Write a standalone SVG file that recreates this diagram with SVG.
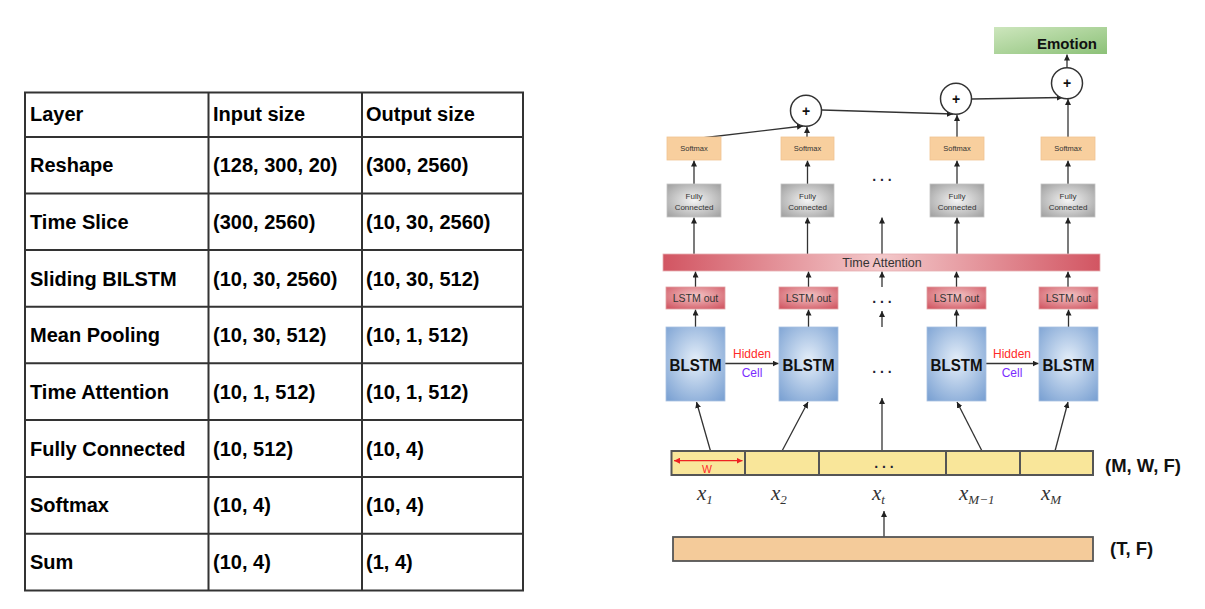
<svg xmlns="http://www.w3.org/2000/svg" width="1205" height="609" viewBox="0 0 1205 609">
<defs>
<marker id="ah" viewBox="0 0 10 10" refX="10" refY="5" markerWidth="6" markerHeight="6" markerUnits="userSpaceOnUse" orient="auto"><path d="M0,0 L10,5 L0,10 z" fill="#222"/></marker>
<marker id="ahr" viewBox="0 0 10 10" refX="10" refY="5" markerWidth="6" markerHeight="6" markerUnits="userSpaceOnUse" orient="auto-start-reverse"><path d="M0,0 L10,5 L0,10 z" fill="#ee2222"/></marker>
<radialGradient id="gFC" cx="50%" cy="50%" r="65%"><stop offset="0" stop-color="#f4f4f4"/><stop offset="1" stop-color="#a4a4a4"/></radialGradient>
<radialGradient id="gBL" cx="50%" cy="45%" r="70%"><stop offset="0" stop-color="#e4eef9"/><stop offset="1" stop-color="#7ca2d3"/></radialGradient>
<radialGradient id="gLO" cx="50%" cy="40%" r="70%"><stop offset="0" stop-color="#f3c6c6"/><stop offset="1" stop-color="#d25a66"/></radialGradient>
<linearGradient id="gTA" x1="0" y1="0" x2="1" y2="0"><stop offset="0" stop-color="#d25562"/><stop offset="0.5" stop-color="#f3c8ca"/><stop offset="1" stop-color="#d25562"/></linearGradient>
<linearGradient id="gEM" x1="0" y1="0" x2="1" y2="1"><stop offset="0" stop-color="#cde6bd"/><stop offset="1" stop-color="#8cc178"/></linearGradient>
<style>
.tb{font-family:"Liberation Sans",Arial,sans-serif;font-weight:bold;font-size:20px;fill:#000}
.grid{stroke:#333;stroke-width:2;fill:none}
.c{stroke:#333;stroke-width:1.3;fill:none;marker-end:url(#ah)}
.sm{fill:#f8cf9e;stroke:#efc391;stroke-width:0.8}
.fc{fill:url(#gFC);stroke:#c4c4c4;stroke-width:0.8}
.lo{fill:url(#gLO);stroke:#e0a0a4;stroke-width:0.8}
.bl{fill:url(#gBL);stroke:#a9c0e0;stroke-width:0.8}
.t{font-family:"Liberation Sans",Arial,sans-serif;text-anchor:middle;fill:#333}
.k{fill:#111;font-weight:bold}
.red{fill:#ff2a2a}
.pur{fill:#7a2cff}
.dots{font-family:"Liberation Sans",Arial,sans-serif;font-size:14px;font-weight:bold;text-anchor:middle;fill:#223}
.plus{fill:#fff;stroke:#333;stroke-width:1.5}
.lbl{font-family:"Liberation Sans",Arial,sans-serif;font-weight:bold;font-size:18.5px;fill:#111}
.mx{font-family:"Liberation Serif","Times New Roman",serif;font-style:italic;font-size:21px;fill:#333}
.sub{font-family:"Liberation Serif","Times New Roman",serif;font-style:italic;font-size:13px}
</style>
</defs>
<rect width="1205" height="609" fill="#fff"/>

<g id="table">
<rect class="grid" x="25" y="92.5" width="498" height="498"/>
<path class="grid" d="M208.5,92.5V590.5M362,92.5V590.5M25,137H523M25,193.5H523M25,250H523M25,306.7H523M25,363.3H523M25,420H523M25,477H523M25,533.7H523"/>
<text class="tb" x="30" y="121">Layer</text><text class="tb" x="213" y="121">Input size</text><text class="tb" x="366" y="121">Output size</text>
<text class="tb" x="30" y="172">Reshape</text><text class="tb" x="213" y="172">(128, 300, 20)</text><text class="tb" x="366" y="172">(300, 2560)</text>
<text class="tb" x="30" y="229">Time Slice</text><text class="tb" x="213" y="229">(300, 2560)</text><text class="tb" x="366" y="229">(10, 30, 2560)</text>
<text class="tb" x="30" y="285.5">Sliding BILSTM</text><text class="tb" x="213" y="285.5">(10, 30, 2560)</text><text class="tb" x="366" y="285.5">(10, 30, 512)</text>
<text class="tb" x="30" y="342">Mean Pooling</text><text class="tb" x="213" y="342">(10, 30, 512)</text><text class="tb" x="366" y="342">(10, 1, 512)</text>
<text class="tb" x="30" y="399">Time Attention</text><text class="tb" x="213" y="399">(10, 1, 512)</text><text class="tb" x="366" y="399">(10, 1, 512)</text>
<text class="tb" x="30" y="455.5">Fully Connected</text><text class="tb" x="213" y="455.5">(10, 512)</text><text class="tb" x="366" y="455.5">(10, 4)</text>
<text class="tb" x="30" y="512.3">Softmax</text><text class="tb" x="213" y="512.3">(10, 4)</text><text class="tb" x="366" y="512.3">(10, 4)</text>
<text class="tb" x="30" y="569">Sum</text><text class="tb" x="213" y="569">(10, 4)</text><text class="tb" x="366" y="569">(1, 4)</text>
</g>

<g id="connectors">
<line class="c" x1="693" y1="139" x2="803" y2="126"/>
<line class="c" x1="807" y1="138" x2="807" y2="127"/>
<line class="c" x1="957" y1="138" x2="957" y2="115"/>
<line class="c" x1="1068" y1="138" x2="1068" y2="99"/>
<line class="c" x1="822" y1="110" x2="953" y2="114"/>
<line class="c" x1="972" y1="99" x2="1063" y2="97.5"/>
<line class="c" x1="1067" y1="67.5" x2="1067" y2="54.5"/>
<line class="c" x1="694" y1="184" x2="694" y2="160.5"/>
<line class="c" x1="807.5" y1="184" x2="807.5" y2="160.5"/>
<line class="c" x1="957" y1="184" x2="957" y2="160.5"/>
<line class="c" x1="1068" y1="184" x2="1068" y2="160.5"/>
<line class="c" x1="694" y1="254" x2="694" y2="217.5"/>
<line class="c" x1="807.5" y1="254" x2="807.5" y2="217.5"/>
<line class="c" x1="882" y1="254" x2="882" y2="217.5"/>
<line class="c" x1="957" y1="254" x2="957" y2="217.5"/>
<line class="c" x1="1068" y1="254" x2="1068" y2="217.5"/>
<line class="c" x1="695.5" y1="287" x2="695.5" y2="271.5"/>
<line class="c" x1="808.5" y1="287" x2="808.5" y2="271.5"/>
<line class="c" x1="882" y1="287" x2="882" y2="271.5"/>
<line class="c" x1="956.5" y1="287" x2="956.5" y2="271.5"/>
<line class="c" x1="1068" y1="287" x2="1068" y2="271.5"/>
<line class="c" x1="695.5" y1="327" x2="695.5" y2="309.5"/>
<line class="c" x1="808.5" y1="327" x2="808.5" y2="309.5"/>
<line class="c" x1="882" y1="327" x2="882" y2="311"/>
<line class="c" x1="956.5" y1="327" x2="956.5" y2="309.5"/>
<line class="c" x1="1068.5" y1="327" x2="1068.5" y2="309.5"/>
<line class="c" x1="725" y1="363.5" x2="778.5" y2="363.5"/>
<line class="c" x1="986" y1="363.5" x2="1038.5" y2="363.5"/>
<line class="c" x1="710.5" y1="451" x2="696.5" y2="402"/>
<line class="c" x1="782" y1="451" x2="808" y2="402"/>
<line class="c" x1="882" y1="451" x2="882" y2="398"/>
<line class="c" x1="982" y1="451" x2="957" y2="402"/>
<line class="c" x1="1055" y1="451" x2="1068" y2="402"/>
<line class="c" x1="884" y1="537" x2="884" y2="511"/>
</g>

<g id="emotion"><rect x="994" y="27" width="113" height="27" fill="url(#gEM)"/><text class="t k" x="1067" y="48.5" font-size="15">Emotion</text></g>
<g id="sum1"><circle class="plus" cx="806" cy="110.7" r="15.5"/><text class="t k" x="806" y="115.5" font-size="14">+</text></g>
<g id="sum2"><circle class="plus" cx="956" cy="98.7" r="15.5"/><text class="t k" x="956" y="103.5" font-size="14">+</text></g>
<g id="sum3"><circle class="plus" cx="1067" cy="83.3" r="15.5"/><text class="t k" x="1067" y="88.1" font-size="14">+</text></g>

<g id="softmax1"><rect class="sm" x="667" y="137" width="54" height="23"/><text class="t" x="694" y="151" font-size="7.5">Softmax</text></g>
<g id="softmax2"><rect class="sm" x="781" y="137" width="53" height="23"/><text class="t" x="807.5" y="151" font-size="7.5">Softmax</text></g>
<g id="softmax3"><rect class="sm" x="930" y="137" width="54" height="23"/><text class="t" x="957" y="151" font-size="7.5">Softmax</text></g>
<g id="softmax4"><rect class="sm" x="1041" y="137" width="54" height="23"/><text class="t" x="1068" y="151" font-size="7.5">Softmax</text></g>

<g id="fc1"><rect class="fc" x="667" y="184" width="54" height="33"/><text class="t" x="694" y="198.5" font-size="8">Fully</text><text class="t" x="694" y="209.5" font-size="8">Connected</text></g>
<g id="fc2"><rect class="fc" x="781" y="184" width="53" height="33"/><text class="t" x="807.5" y="198.5" font-size="8">Fully</text><text class="t" x="807.5" y="209.5" font-size="8">Connected</text></g>
<g id="fc3"><rect class="fc" x="930" y="184" width="54" height="33"/><text class="t" x="957" y="198.5" font-size="8">Fully</text><text class="t" x="957" y="209.5" font-size="8">Connected</text></g>
<g id="fc4"><rect class="fc" x="1041" y="184" width="54" height="33"/><text class="t" x="1068" y="198.5" font-size="8">Fully</text><text class="t" x="1068" y="209.5" font-size="8">Connected</text></g>
<text class="dots" x="882" y="181">. . .</text>

<g id="time-attention"><rect x="663" y="254" width="437" height="17" fill="url(#gTA)" stroke="#e6aeb2" stroke-width="0.8"/><text class="t" x="882" y="267" font-size="12.5">Time Attention</text></g>

<g id="lstmout1"><rect class="lo" x="666" y="287" width="59" height="22"/><text class="t" x="695.5" y="302" font-size="10.5">LSTM out</text></g>
<g id="lstmout2"><rect class="lo" x="779" y="287" width="59" height="22"/><text class="t" x="808.5" y="302" font-size="10.5">LSTM out</text></g>
<g id="lstmout3"><rect class="lo" x="927" y="287" width="59" height="22"/><text class="t" x="956.5" y="302" font-size="10.5">LSTM out</text></g>
<g id="lstmout4"><rect class="lo" x="1039" y="287" width="59" height="22"/><text class="t" x="1068.5" y="302" font-size="10.5">LSTM out</text></g>
<text class="dots" x="882" y="303">. . .</text>

<g id="blstm1"><rect class="bl" x="666" y="327" width="59" height="74"/><text class="t k" x="695.5" y="371" font-size="17" textLength="52" lengthAdjust="spacingAndGlyphs">BLSTM</text></g>
<g id="blstm2"><rect class="bl" x="779" y="327" width="59" height="74"/><text class="t k" x="808.5" y="371" font-size="17" textLength="52" lengthAdjust="spacingAndGlyphs">BLSTM</text></g>
<g id="blstm3"><rect class="bl" x="927" y="327" width="59" height="74"/><text class="t k" x="956.5" y="371" font-size="17" textLength="52" lengthAdjust="spacingAndGlyphs">BLSTM</text></g>
<g id="blstm4"><rect class="bl" x="1039" y="327" width="59" height="74"/><text class="t k" x="1068.5" y="371" font-size="17" textLength="52" lengthAdjust="spacingAndGlyphs">BLSTM</text></g>
<g id="hc1"><text class="t red" x="752" y="358" font-size="12">Hidden</text><text class="t pur" x="752" y="376.5" font-size="12">Cell</text></g>
<g id="hc2"><text class="t red" x="1012" y="358" font-size="12">Hidden</text><text class="t pur" x="1012" y="376.5" font-size="12">Cell</text></g>
<text class="dots" x="882" y="373">. . .</text>

<g id="input-windows">
<rect x="671.5" y="451" width="421.5" height="24" fill="#f9e69a" stroke="#555" stroke-width="2"/>
<path d="M745,451V475M819,451V475M946,451V475M1020,451V475" stroke="#555" stroke-width="2"/>
<line x1="674" y1="460.7" x2="742.5" y2="460.7" stroke="#ee2222" stroke-width="1.3" marker-start="url(#ahr)" marker-end="url(#ahr)"/>
<text class="t red" x="707" y="472.5" font-size="10.5">W</text>
<text class="dots" x="884" y="468">. . .</text>
<text class="lbl" x="1105" y="471.5">(M, W, F)</text>
</g>
<g id="xlabels">
<text class="mx" x="697" y="500">x<tspan class="sub" dy="4">1</tspan></text>
<text class="mx" x="771" y="500">x<tspan class="sub" dy="4">2</tspan></text>
<text class="mx" x="872" y="500">x<tspan class="sub" dy="4">t</tspan></text>
<text class="mx" x="959" y="500">x<tspan class="sub" dy="4">M−1</tspan></text>
<text class="mx" x="1041" y="500">x<tspan class="sub" dy="4">M</tspan></text>
</g>
<g id="input-sequence">
<rect x="673" y="537" width="420" height="24" fill="#f4cb9a" stroke="#555" stroke-width="1.8"/>
<text class="lbl" x="1110" y="555">(T, F)</text>
</g>
</svg>
